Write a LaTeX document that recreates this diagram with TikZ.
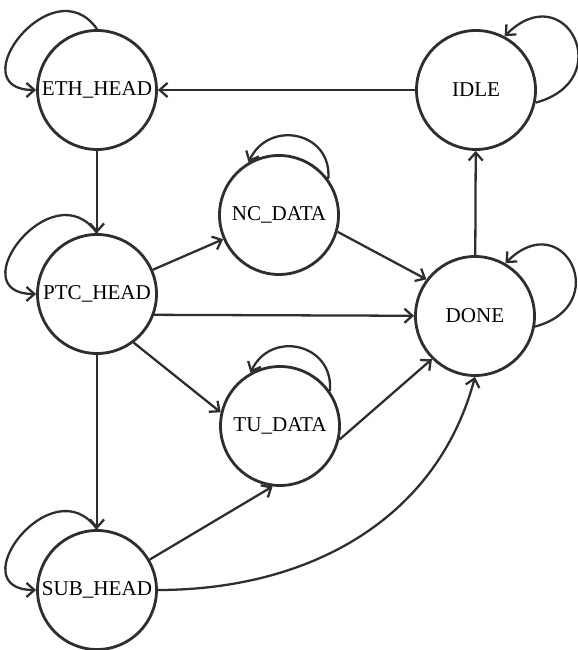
\documentclass[tikz,border=0pt]{standalone}
\usepackage{fontspec}
\setmainfont{Liberation Serif}
\usepackage{tikz}
\usetikzlibrary{positioning, arrows.meta}
\definecolor{ink}{HTML}{2E2E2E}

\begin{document}
\begin{tikzpicture}
        \tikzstyle{fsm} = [circle, draw=ink, line width=1.6pt, fill=white,
          minimum size=2.38cm, inner sep=0pt, font=\fontsize{12}{14}\selectfont]
        \tikzstyle{trans} = [draw=ink, line width=1.3pt, -{Straight Barb[length=4.5pt,width=8pt]}]

        \useasboundingbox (0,0) rectangle (11.54,13);

        % states
        \foreach \nm/\x/\y/\txt in {eth/1.94/11.2/ETH\_HEAD, idle/9.52/11.2/IDLE,
            nc/5.58/8.70/NC\_DATA, ptc/1.94/7.12/PTC\_HEAD, done/9.50/6.68/DONE,
            tu/5.60/4.48/TU\_DATA, sub/1.94/1.20/SUB\_HEAD}
          \node[fsm] (\nm) at (\x,\y) {\txt};

        % self loops
        \foreach \s in {eth,ptc,sub}
          \draw[trans] (\s.90) to[out=125, in=180, looseness=2.3] (\s.180);
        \draw[trans] (idle.-12) to[out=15, in=45, looseness=3] (idle.62);
        \draw[trans] (done.-10) to[out=15, in=45, looseness=3] (done.60);
        \draw[trans] (nc.36) to[out=85, in=65, looseness=1.5] (nc.120);
        \draw[trans] (tu.35) to[out=85, in=65, looseness=1.5] (tu.119);

        % transitions
        \draw[trans] (idle) -- (eth);
        \draw[trans] (eth) -- (ptc);
        \draw[trans] (ptc) -- (nc);
        \draw[trans] (ptc.-20) -- (done);
        \draw[trans] (ptc.-53) -- (tu.167);
        \draw[trans] (ptc) -- (sub);
        \draw[trans] (nc.-16) -- (done.143);
        \draw[trans] (tu.-13) -- (done.-135);
        \draw[trans] (sub.30) -- (tu.-97);
        \draw[trans] (sub.east) to[out=0, in=-105] (done.-90);
        \draw[trans] (done) -- (idle);
      \end{tikzpicture}
\end{document}
